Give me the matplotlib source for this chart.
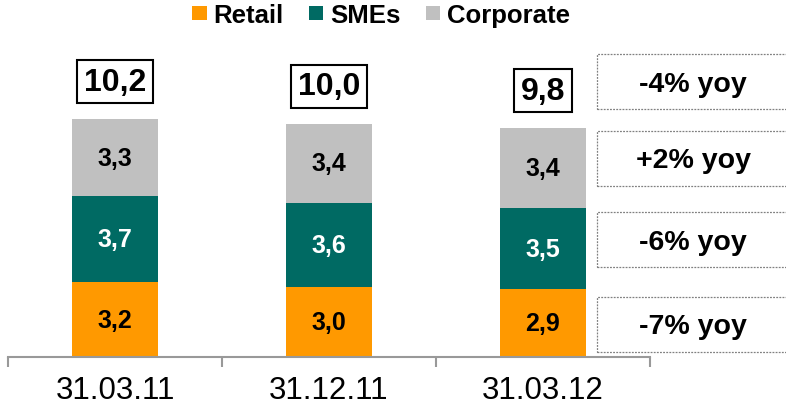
import matplotlib
matplotlib.use("Agg")
import matplotlib.pyplot as plt
from matplotlib.patches import Rectangle, Patch
import numpy as np

categories = ["31.03.11", "31.12.11", "31.03.12"]
retail = [3.2, 3.0, 2.9]
smes = [3.7, 3.6, 3.5]
corporate = [3.3, 3.4, 3.4]
totals = [10.2, 10.0, 9.8]
series_names = ["Retail", "SMEs", "Corporate"]
yoy_labels = ["-4% yoy", "+2% yoy", "-6% yoy", "-7% yoy"]

colors = {"Retail": "#FF9900", "SMEs": "#006A63", "Corporate": "#C0C0C0"}

plt.rcParams['font.family'] = ['Liberation Sans', 'DejaVu Sans']

W, H = 786, 414
fig = plt.figure(figsize=(W / 100, H / 100), dpi=100)

# axes placement (pixels)
ax_left, ax_right, ax_bottom = 8, 650, 358
ax = fig.add_axes([ax_left / W, (H - ax_bottom) / H, (ax_right - ax_left) / W, ax_bottom / H])
ax.patch.set_alpha(0)

x = np.arange(len(categories))
bw = 0.4
fmt = lambda v: f"{v:.1f}".replace(".", ",")

bottom = np.zeros(len(categories))
for name, vals, tc in [("Retail", retail, "black"), ("SMEs", smes, "white"), ("Corporate", corporate, "black")]:
    vals = np.array(vals)
    ax.bar(x, vals, bw, bottom=bottom, color=colors[name], label=name, linewidth=0)
    for xi, b, v in zip(x, bottom, vals):
        ax.text(xi, b + v / 2, fmt(v), ha="center", va="center", fontsize=18,
                fontweight="bold", color=tc)
    bottom = bottom + vals

for xi, top, t in zip(x, bottom, totals):
    ax.annotate(fmt(t), xy=(xi, top), xytext=(0, 27), textcoords="offset points",
                ha="center", va="center", fontsize=23, fontweight="bold",
                bbox=dict(boxstyle="square,pad=0.2", fc="white", ec="black", lw=1.5))

ax.set_xlim(-0.5, 2.5)
ax.set_ylim(0, 358 / 23.33)
for s in ["top", "left", "right"]:
    ax.spines[s].set_visible(False)
ax.spines["bottom"].set_color("#999999")
ax.spines["bottom"].set_linewidth(1.5)
ax.set_yticks([])
ax.set_xticks(x)
ax.set_xticklabels(categories, fontsize=22.5)
ax.tick_params(axis="x", which="major", length=0, pad=13)
ax.set_xticks([-0.5, 0.5, 1.5, 2.5], minor=True)
ax.tick_params(axis="x", which="minor", length=7, width=1.5, color="#999999", direction="out")

# legend
handles = [Patch(facecolor=colors[n], edgecolor="none") for n in series_names]
fig.legend(handles, series_names, loc="center", bbox_to_anchor=(381 / W, 1 - 16 / H),
           ncol=3, frameon=False, handlelength=0.56, handleheight=0.5,
           handletextpad=0.25, columnspacing=1.0, prop=dict(size=18.5, weight="bold"))

# yoy dashed boxes (pixel positions)
boxes = [(55, 110), (132, 187), (213, 268), (298, 353)]
for (y0, y1), lab in zip(boxes, yoy_labels):
    fig.add_artist(Rectangle((597 / W, 1 - y1 / H), (795 - 597) / W, (y1 - y0) / H,
                             transform=fig.transFigure, fill=False, ec="#808080",
                             ls=(0, (1.5, 1)), lw=0.9))
    fig.text(693 / W, 1 - (y0 + y1 + 4) / 2 / H, lab, ha="center", va="center",
             fontsize=20.5, fontweight="bold")

fig.savefig("out.png", dpi=100)
